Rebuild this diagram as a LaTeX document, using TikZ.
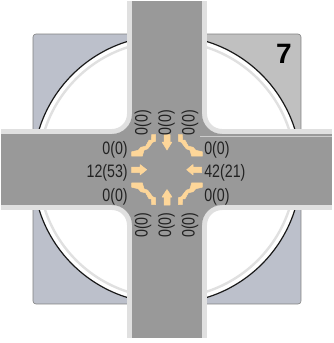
\documentclass[tikz,border=0pt]{standalone}
\usepackage{fontspec}
\newfontfamily\labfont[FakeStretch=0.79]{Liberation Sans}
\newfontfamily\numfont{Liberation Sans}
\definecolor{plotblue}{HTML}{BCC0CB}
\definecolor{plotgrey}{HTML}{C0C0C0}
\definecolor{roadgrey}{HTML}{999999}
\definecolor{kerb}{HTML}{E0E0E0}
\definecolor{arrowcol}{HTML}{FDD699}
\definecolor{labcol}{HTML}{222222}
\tikzset{
  lab/.style={font=\labfont\fontsize{18}{18}\selectfont, text=labcol, inner sep=0pt, outer sep=0pt},
  westlab/.style={lab, anchor=east},
  eastlab/.style={lab, anchor=west},
  vertlab/.style={lab, rotate=90, anchor=center},
  flow/.style={fill=arrowcol, draw=arrowcol, line width=.5pt, line join=round}
}
\begin{document}
\begin{tikzpicture}[x=1pt,y=-1pt]
\useasboundingbox (0,0) rectangle (334,343);
% plot square
\begin{scope}
  \clip[rounded corners=3pt] (33,34) rectangle (301,304);
  \fill[plotblue] (33,34) rectangle (301,304);
  \fill[plotgrey] (167,34) rectangle (301,170);
\end{scope}
\draw[black!50,line width=.6pt,rounded corners=3pt] (33,34) rectangle (301,304);
% circles
\fill[white] (167,169.5) circle[radius=134pt];
\draw[black!90,line width=1.2pt] (167,169.5) circle[radius=134pt];
\draw[kerb,line width=2.4pt] (167,169.5) circle[radius=128.4pt];
% kerb band
\fill[kerb] (127,1) rectangle (207,338);
\fill[kerb] (1,129) rectangle (332,210);
\foreach \sx/\sy in {1/1,-1/1,1/-1,-1/-1}{
  \begin{scope}[shift={(167,169.5)},xscale=\sx,yscale=\sy]
    \fill[kerb] (-40,-55.5) .. controls (-40,-47.2) and (-46.7,-40.5) .. (-55,-40.5) -- (-40,-40.5) -- cycle;
  \end{scope}
}
% road
\fill[roadgrey] (132,1) rectangle (202,338);
\fill[roadgrey] (1,134) rectangle (332,205);
\foreach \sx/\sy in {1/1,-1/1,1/-1,-1/-1}{
  \begin{scope}[shift={(167,169.5)},xscale=\sx,yscale=\sy]
    \fill[roadgrey] (-35,-55.5) .. controls (-35,-44.5) and (-44,-35.5) .. (-55,-35.5) -- (-35,-35.5) -- cycle;
    \filldraw[flow] (-15.3,-35) -- (-11.3,-35) -- (-11.3,-28.3) -- (-14.3,-27.3) -- (-19.3,-20.7) -- (-23,-19.3) -- (-24.7,-13.3) -- (-35.3,-13.3) -- (-35.3,-17.7) -- (-28.7,-19.3) -- (-26,-22.3) -- (-21.3,-23.3) -- (-18,-29.3) -- (-15.7,-29.3) -- cycle;
  \end{scope}
}
\draw[black!20,line width=.6pt] (200,136) -- (332,136);
% straight arrows
\filldraw[flow] (164,134.5) -- (170,134.5) -- (170,142) -- (172,142) -- (167,150) -- (162,142) -- (164,142) -- cycle;
\filldraw[flow] (164,205) -- (170,205) -- (170,197) -- (172,197) -- (167,189.5) -- (162,197) -- (164,197) -- cycle;
\filldraw[flow] (131.7,167) -- (140,167) -- (140,164.5) -- (146.7,169.7) -- (140,175) -- (140,172.5) -- (131.7,172.5) -- cycle;
\filldraw[flow] (201.7,167) -- (193,167) -- (193,164.5) -- (186.7,169.7) -- (193,175) -- (193,172.5) -- (201.7,172.5) -- cycle;
% labels
\node[westlab] (w1) at (127.7,150) {0(0)};
\node[westlab] (w2) at (127.7,172.5) {12(53)};
\node[westlab] (w3) at (127.7,197) {0(0)};
\node[eastlab] (e1) at (204.3,150) {0(0)};
\node[eastlab] (e2) at (204.3,172.5) {42(21)};
\node[eastlab] (e3) at (204.3,197) {0(0)};
\node[vertlab] (n1) at (143,122.5) {0(0)};
\node[vertlab] (n2) at (166.5,122.5) {0(0)};
\node[vertlab] (n3) at (190,122.5) {0(0)};
\node[vertlab] (s1) at (143,225) {0(0)};
\node[vertlab] (s2) at (166.5,225) {0(0)};
\node[vertlab] (s3) at (190,225) {0(0)};
\node[font=\numfont\bfseries\fontsize{28}{28}\selectfont,text=black,inner sep=0pt] (num) at (284,54) {7};
\end{tikzpicture}
\end{document}
